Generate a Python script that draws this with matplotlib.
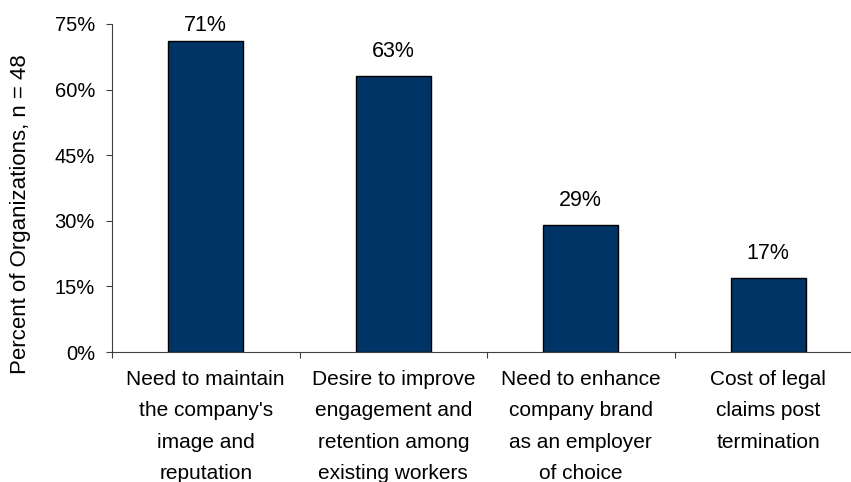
import matplotlib
matplotlib.use("Agg")
import matplotlib.pyplot as plt
from matplotlib.ticker import FixedLocator, FuncFormatter

plt.rcParams['font.family'] = ['Liberation Sans', 'DejaVu Sans']

categories = [
    "Need to maintain\nthe company's\nimage and\nreputation",
    "Desire to improve\nengagement and\nretention among\nexisting workers",
    "Need to enhance\ncompany brand\nas an employer\nof choice",
    "Cost of legal\nclaims post\ntermination",
]
values = [71, 63, 29, 17]
value_labels = ["71%", "63%", "29%", "17%"]
y_ticks = [0, 15, 30, 45, 60, 75]
y_label = "Percent of Organizations, n = 48"

W, H = 851, 482
fig = plt.figure(figsize=(W / 100, H / 100), dpi=100)
left, right, top, bottom = 112, 862, 24, 352
ax = fig.add_axes([left / W, 1 - bottom / H, (right - left) / W, (bottom - top) / H])

x = list(range(len(values)))
ax.bar(x, values, width=0.4, color="#003366", edgecolor="black", linewidth=1.0)

ymax = 75
ax.set_xlim(-0.5, len(values) - 0.5)
ax.set_ylim(0, ymax)

# value labels sit a fixed gap above each bar, kept inside the plot area
px_per_unit = (bottom - top) / ymax
gap = 19 / px_per_unit
ceiling = ymax - 6.6 / px_per_unit
for xi, v, lab in zip(x, values, value_labels):
    ax.text(xi, min(v + gap, ceiling), lab, ha="center", va="baseline",
            fontsize=15.5, color="black")

ax.yaxis.set_major_locator(FixedLocator(y_ticks))
ax.yaxis.set_major_formatter(FuncFormatter(lambda v, p: f"{int(v)}%"))
ax.tick_params(axis="y", direction="out", length=4.3, width=0.8, color="#404040",
               labelsize=14.5, pad=8, labelcolor="black")

ax.set_xticks(x)
ax.set_xticklabels(categories, fontsize=15, linespacing=1.82, va="top")
ax.tick_params(axis="x", which="major", length=0, pad=13, labelcolor="black")
ax.xaxis.set_minor_locator(FixedLocator([i - 0.5 for i in range(len(values) + 1)]))
ax.tick_params(axis="x", which="minor", direction="out", length=4, width=0.8, color="#404040")

ax.set_ylabel(y_label, fontsize=16, va="center", ha="center")
ax.yaxis.set_label_coords((21 - left) / (right - left), (bottom - 214) / (bottom - top))

for s in ("top", "right"):
    ax.spines[s].set_visible(False)
for s in ("left", "bottom"):
    ax.spines[s].set_color("#404040")
    ax.spines[s].set_linewidth(0.8)

fig.savefig("out.png", dpi=100)
